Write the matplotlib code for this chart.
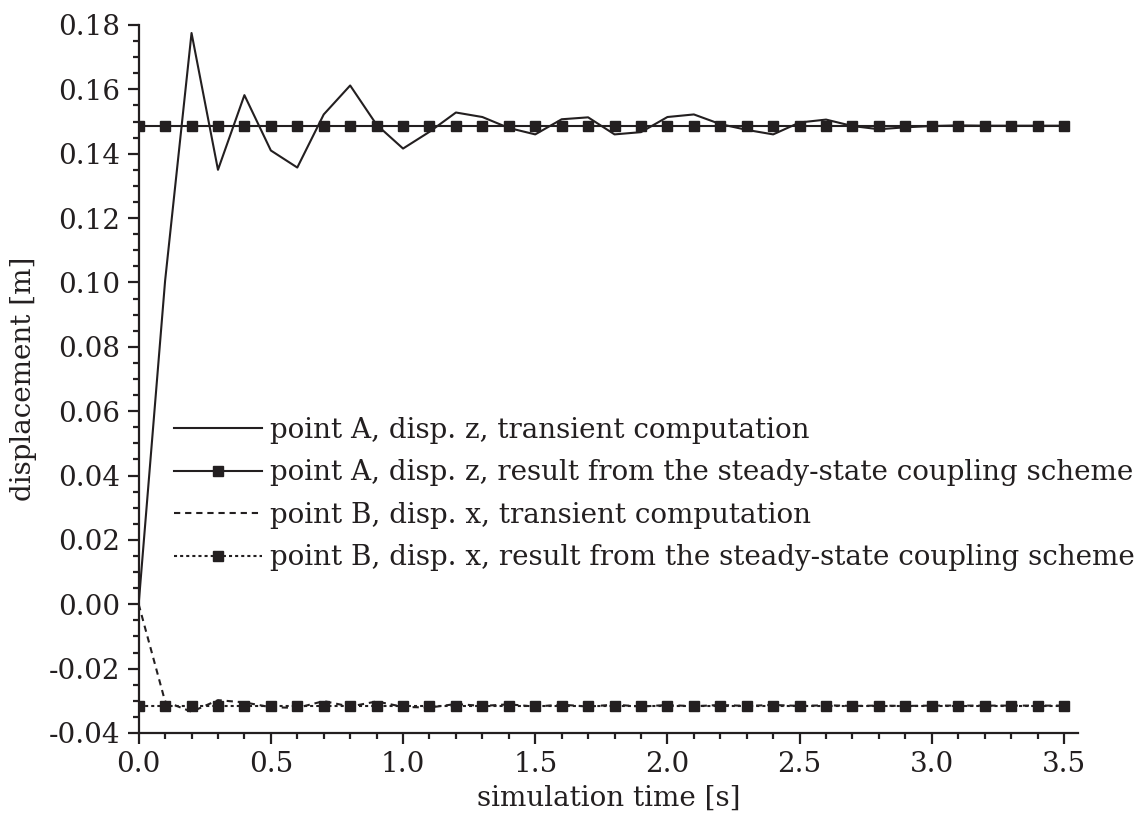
import matplotlib
matplotlib.use("Agg")
import matplotlib.pyplot as plt
from matplotlib.ticker import MultipleLocator, FormatStrFormatter

# sample times of the transient computation [s]
time_s = [0.0, 0.1, 0.2, 0.3, 0.4, 0.5, 0.6, 0.7, 0.8, 0.9,
          1.0, 1.1, 1.2, 1.3, 1.4, 1.5, 1.6, 1.7, 1.8, 1.9,
          2.0, 2.1, 2.2, 2.3, 2.4, 2.5, 2.6, 2.7, 2.8, 2.9,
          3.0, 3.1, 3.2, 3.3, 3.4, 3.5]

# point A, displacement z, transient computation [m]
a_transient = [0.0000, 0.1005, 0.1775, 0.1350, 0.1582, 0.1410, 0.1357, 0.1522, 0.1612, 0.1490,
               0.1416, 0.1468, 0.1528, 0.1514, 0.1480, 0.1460, 0.1507, 0.1513, 0.1460, 0.1467,
               0.1514, 0.1522, 0.1492, 0.1474, 0.1460, 0.1497, 0.1506, 0.1486, 0.1476, 0.1482,
               0.1486, 0.1488, 0.1487, 0.1487, 0.1487, 0.1487]

# point B, displacement x, transient computation [m]
b_transient = [0.0000, -0.0302, -0.0334, -0.0298, -0.0305, -0.0320, -0.0322, -0.0301, -0.0318, -0.0302,
               -0.0319, -0.0321, -0.0310, -0.0316, -0.0311, -0.0318, -0.0312, -0.0318, -0.0312, -0.0318,
               -0.0313, -0.0317, -0.0313, -0.0316, -0.0313, -0.0316, -0.0314, -0.0316, -0.0315, -0.0316,
               -0.0315, -0.0315, -0.0315, -0.0315, -0.0315, -0.0315]

# results of the steady-state coupling scheme [m]
a_steady_value = 0.1487
b_steady_value = -0.0315
a_steady = [a_steady_value] * len(time_s)
b_steady = [b_steady_value] * len(time_s)

labels = [
    "point A, disp. z, transient computation",
    "point A, disp. z, result from the steady-state coupling scheme",
    "point B, disp. x, transient computation",
    "point B, disp. x, result from the steady-state coupling scheme",
]

plt.rcParams["font.family"] = ["DejaVu Serif"]
plt.rcParams["axes.unicode_minus"] = False
plt.rcParams["lines.scale_dashes"] = False

ink = "#231f20"
fs = 20

fig = plt.figure(figsize=(11.45, 8.27), dpi=100)
ax = fig.add_axes([0.1211, 0.1137, 0.8204, 0.8561])

lw = 1.5
ax.plot(time_s, a_transient, color=ink, lw=lw, label=labels[0])
ax.plot(time_s, a_steady, color=ink, lw=lw, marker="s", ms=6.8, label=labels[1])
ax.plot(time_s, b_transient, color=ink, lw=lw, dashes=(4.5, 3.5), label=labels[2])
ax.plot(time_s, b_steady, color=ink, lw=lw, dashes=(2.2, 2.2), marker="s", ms=6.8, label=labels[3])

ax.set_xlim(0, 3.553)
ax.set_ylim(-0.04, 0.18)
ax.xaxis.set_major_locator(MultipleLocator(0.5))
ax.xaxis.set_minor_locator(MultipleLocator(0.1))
ax.yaxis.set_major_locator(MultipleLocator(0.02))
ax.yaxis.set_minor_locator(MultipleLocator(0.005))
ax.xaxis.set_major_formatter(FormatStrFormatter("%.1f"))
ax.yaxis.set_major_formatter(FormatStrFormatter("%.2f"))

for side in ("top", "right"):
    ax.spines[side].set_visible(False)
for side in ("left", "bottom"):
    ax.spines[side].set_color(ink)
    ax.spines[side].set_linewidth(1.6)

ax.tick_params(which="major", direction="out", length=8, width=1.6, color=ink,
               labelsize=fs, labelcolor=ink, pad=5)
ax.tick_params(which="minor", direction="out", length=4.5, width=1.6, color=ink)

ax.set_xlabel("simulation time [s]", fontsize=fs, color=ink, labelpad=5)
ax.set_ylabel("displacement [m]", fontsize=fs, color=ink, labelpad=9)

ax.legend(loc="upper left", bbox_to_anchor=(0.152, 0.496), bbox_transform=fig.transFigure,
          frameon=False, fontsize=fs, handlelength=3.15, handletextpad=0.32,
          labelspacing=0.56, borderpad=0, borderaxespad=0, numpoints=1,
          labelcolor=ink)

fig.savefig("out.png", dpi=100)
